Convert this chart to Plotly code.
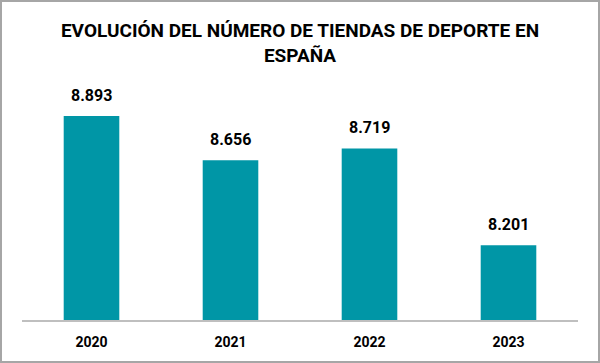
import plotly.graph_objects as go

years = ["2020", "2021", "2022", "2023"]
tiendas = [8893, 8656, 8719, 8201]
title_text = "EVOLUCIÓN DEL NÚMERO DE TIENDAS DE DEPORTE EN<br>ESPAÑA"

W, H = 600, 363
ML, MR, MT, MB = 22, 22, 96, 43
PW, PH = W - ML - MR, H - MT - MB

FONT = "Roboto, Liberation Sans Narrow, sans-serif"

def fmt(v):
    return f"{v:,}".replace(",", ".")

fig = go.Figure(go.Bar(
    x=years, y=tiendas,
    marker=dict(color="#0096A6", line=dict(width=0)),
    hoverinfo="skip",
))

# category axis: annotations placed by category index
for i, v in enumerate(tiendas):
    fig.add_annotation(
        x=i, y=v, text=f"<b>{fmt(v)}</b>", showarrow=False,
        yanchor="bottom", yshift=9,
        font=dict(family=FONT, size=16, color="#000000"),
    )

fig.add_shape(
    type="rect", xref="paper", yref="paper",
    x0=-(ML - 1) / PW, x1=1 + (MR - 1) / PW,
    y0=-(MB - 1) / PH, y1=1 + (MT - 1) / PH,
    line=dict(color="#A6A6A6", width=2), layer="above",
)

fig.update_layout(
    width=W, height=H,
    margin=dict(l=ML, r=MR, t=MT, b=MB, pad=0),
    paper_bgcolor="white", plot_bgcolor="white",
    bargap=0.6,
    showlegend=False,
    title=dict(
        text=f"<b>{title_text}</b>",
        x=0.5, xanchor="center", xref="paper",
        yref="container", y=1 - 37 / H, yanchor="top",
        font=dict(family=FONT, size=19, color="#000000"),
    ),
    xaxis=dict(
        type="category", range=[-0.5, len(years) - 0.5],
        showline=True, linecolor="#BFBFBF", linewidth=1.5,
        showgrid=False, zeroline=False, ticks="",
        tickfont=dict(family=FONT, size=14, color="#000000"),
        tickprefix="<b>", ticksuffix="</b>",
        ticklabelstandoff=8,
        fixedrange=True,
    ),
    yaxis=dict(
        range=[7800, 9000], visible=False, showgrid=False, zeroline=False,
        fixedrange=True,
    ),
)

fig.write_html(
    "out.html",
    config={"displayModeBar": False},
    post_script="document.body.style.margin='0';document.body.style.overflow='hidden';",
)
